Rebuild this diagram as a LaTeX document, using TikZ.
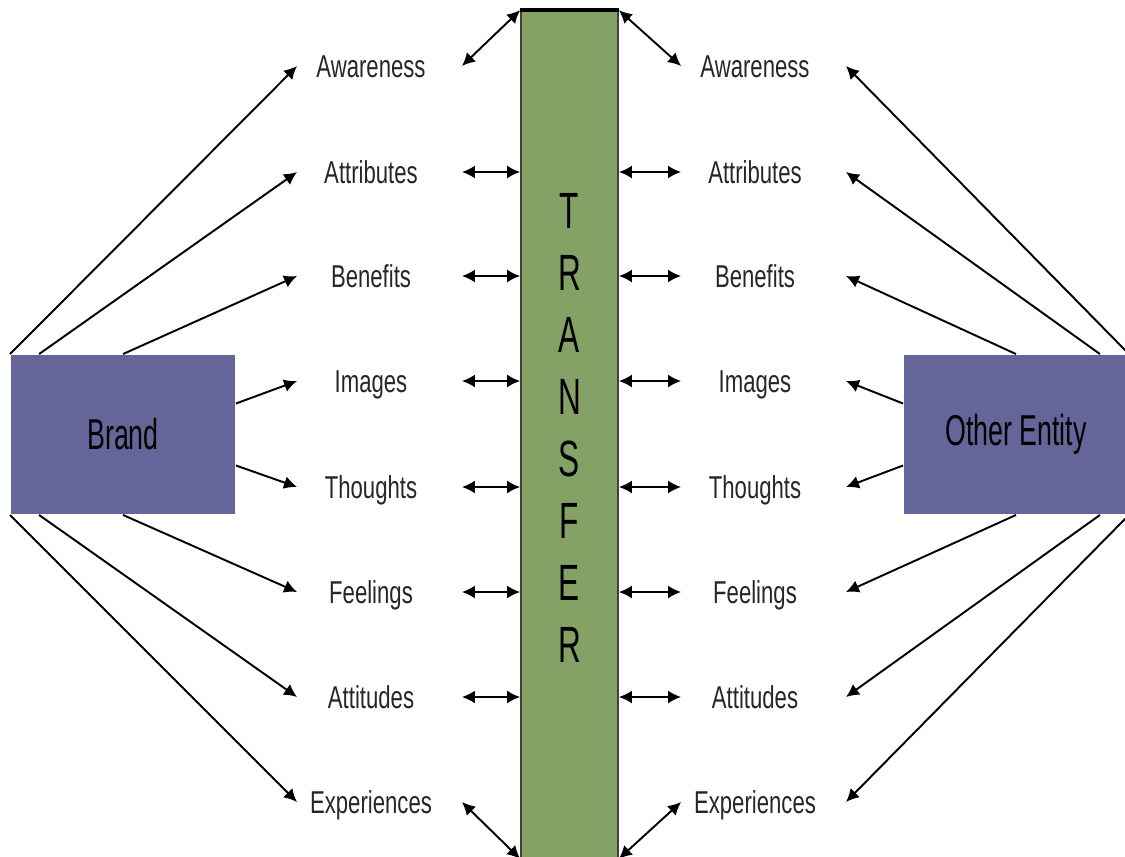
\documentclass[tikz,border=0pt]{standalone}
\usepackage{fontspec}
\setmainfont{Liberation Sans}
\newfontfamily\labelfont{Liberation Sans}[FakeStretch=0.7]
\newfontfamily\boxfont{Liberation Sans}[FakeStretch=0.62]
\usetikzlibrary{arrows.meta}
\definecolor{boxblue}{RGB}{101,101,153}
\definecolor{bargreen}{RGB}{132,161,102}

\begin{document}
\begin{tikzpicture}[x=0.02cm,y=-0.02cm,>={Latex[length=0.26cm,width=0.26cm]},line width=1.1pt,
  lbl/.style={font=\labelfont\fontsize{18}{20}\selectfont,text=black!85,text height=13pt,text depth=0pt,
    minimum width=2.92cm,inner sep=0pt},
  ent/.style={fill=boxblue,minimum width=4.48cm,minimum height=3.18cm,inner sep=0pt,
    font=\boxfont\fontsize{24.6}{28}\selectfont}]
  \useasboundingbox (0,0) rectangle (1125,856);

  % transfer bar
  \node[fill=bargreen,draw=black!75,line width=1pt,minimum width=1.94cm,minimum height=16.94cm,inner sep=0pt] (T) at (569.5,434.5) {};
  \draw[line width=2.2pt] (T.north west) -- (T.north east);
  \node[font=\boxfont\fontsize{29}{35.3}\selectfont,align=center,inner sep=0pt] (W) at (569.5,428) {T\\R\\A\\N\\S\\F\\E\\R};

  \node[ent] (B) at (123,434.5) {Brand};
  \node[ent] (E) at (1016,434.5) {Other Entity};

  \node[lbl] (L1) at (371,66) {Awareness};
  \node[lbl] (L2) at (371,172) {Attributes};
  \node[lbl] (L3) at (371,276) {Benefits};
  \node[lbl] (L4) at (371,381) {Images};
  \node[lbl] (L5) at (371,487) {Thoughts};
  \node[lbl] (L6) at (371,592) {Feelings};
  \node[lbl] (L7) at (371,697) {Attitudes};
  \node[lbl] (L8) at (371,802) {Experiences};

  \node[lbl] (R1) at (755,66) {Awareness};
  \node[lbl] (R2) at (755,172) {Attributes};
  \node[lbl] (R3) at (755,276) {Benefits};
  \node[lbl] (R4) at (755,381) {Images};
  \node[lbl] (R5) at (755,487) {Thoughts};
  \node[lbl] (R6) at (755,592) {Feelings};
  \node[lbl] (R7) at (755,697) {Attitudes};
  \node[lbl] (R8) at (755,802) {Experiences};

  % brand side
  \draw[->] (B.north west) -- (L1.west);
  \draw[->] ([xshift=0.58cm]B.north west) -- (L2.west);
  \draw[->] (B.north) -- (L3.west);
  \draw[->] ([yshift=0.62cm]B.east) -- (L4.west);
  \draw[->] ([yshift=-0.62cm]B.east) -- (L5.west);
  \draw[->] (B.south) -- (L6.west);
  \draw[->] ([xshift=0.58cm]B.south west) -- (L7.west);
  \draw[->] (B.south west) -- (L8.west);

  % other entity side
  \draw[->] (E.north east) -- ([xshift=0.34cm]R1.east);
  \draw[->] ([xshift=-0.58cm]E.north east) -- ([xshift=0.34cm]R2.east);
  \draw[->] (E.north) -- ([xshift=0.34cm]R3.east);
  \draw[->] ([yshift=0.62cm]E.west) -- ([xshift=0.34cm]R4.east);
  \draw[->] ([yshift=-0.62cm]E.west) -- ([xshift=0.34cm]R5.east);
  \draw[->] (E.south) -- ([xshift=0.34cm]R6.east);
  \draw[->] ([xshift=-0.58cm]E.south east) -- ([xshift=0.34cm]R7.east);
  \draw[->] (E.south east) -- ([xshift=0.34cm]R8.east);

  % to and from the bar
  \draw[<->] ([xshift=0.34cm]L1.east) -- (T.north west);
  \draw[<->] ([xshift=0.34cm]L2.east) -- (L2 -| T.west);
  \draw[<->] ([xshift=0.34cm]L3.east) -- (L3 -| T.west);
  \draw[<->] ([xshift=0.34cm]L4.east) -- (L4 -| T.west);
  \draw[<->] ([xshift=0.34cm]L5.east) -- (L5 -| T.west);
  \draw[<->] ([xshift=0.34cm]L6.east) -- (L6 -| T.west);
  \draw[<->] ([xshift=0.34cm]L7.east) -- (L7 -| T.west);
  \draw[<->] ([xshift=0.34cm]L8.east) -- (T.south west);

  \draw[<->] (T.north east) -- (R1.west);
  \draw[<->] (R2 -| T.east) -- (R2.west);
  \draw[<->] (R3 -| T.east) -- (R3.west);
  \draw[<->] (R4 -| T.east) -- (R4.west);
  \draw[<->] (R5 -| T.east) -- (R5.west);
  \draw[<->] (R6 -| T.east) -- (R6.west);
  \draw[<->] (R7 -| T.east) -- (R7.west);
  \draw[<->] (T.south east) -- (R8.west);
\end{tikzpicture}
\end{document}
